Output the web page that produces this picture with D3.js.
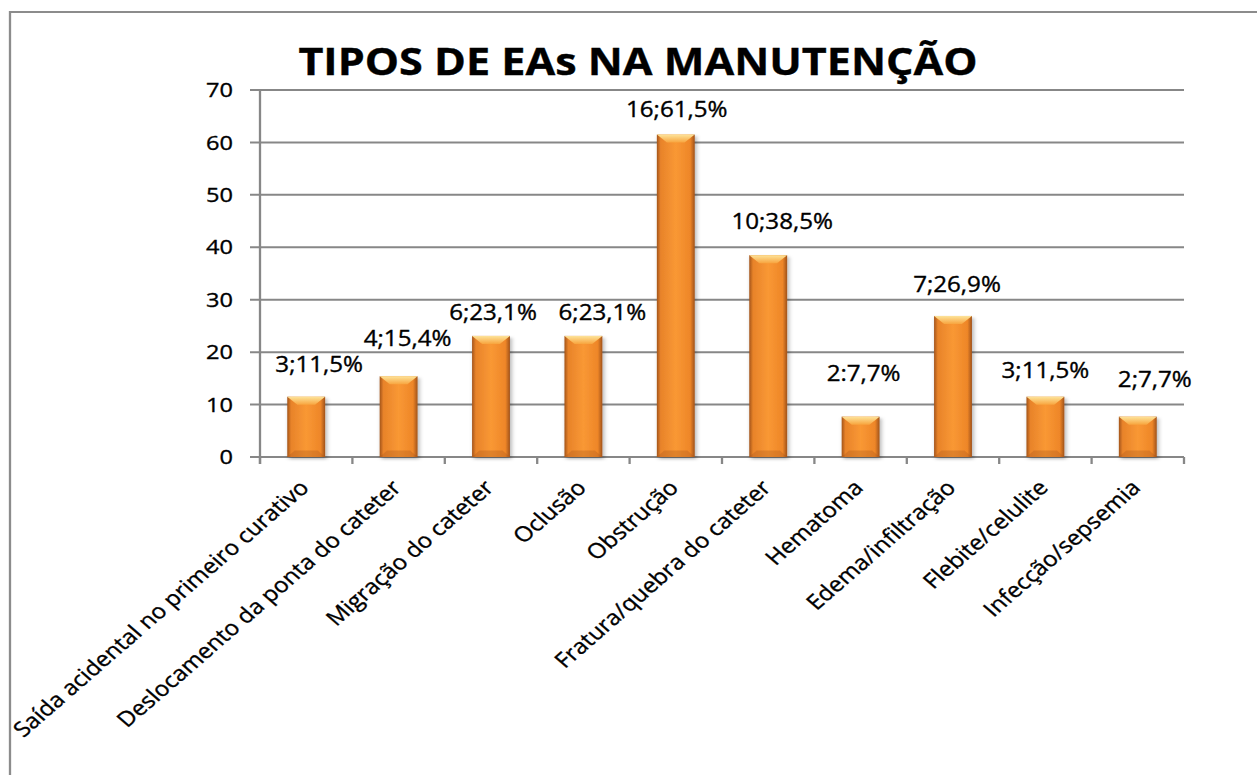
<!DOCTYPE html>
<html>
<head>
<meta charset="utf-8">
<script src="https://cdn.jsdelivr.net/npm/d3@7"></script>
<style>
  html, body { margin: 0; padding: 0; background: #fff; }
  svg { display: block; }
  text { font-family: "Open Sans", "Noto Sans", sans-serif; fill: #000; stroke: #000; stroke-width: 0.35px; }
</style>
</head>
<body>
<div id="chart"></div>
<script>
// chart values
const categories = [
    "Saída acidental no primeiro curativo",
    "Deslocamento da ponta do cateter",
    "Migração do cateter",
    "Oclusão",
    "Obstrução",
    "Fratura/quebra do cateter",
    "Hematoma",
    "Edema/infiltração",
    "Flebite/celulite",
    "Infecção/sepsemia"
];
const percents = [11.5, 15.4, 23.1, 23.1, 61.5, 38.5, 7.7, 26.9, 11.5, 7.7];
const dataLabels = ["3;11,5%", "4;15,4%", "6;23,1%", "6;23,1%", "16;61,5%",
                    "10;38,5%", "2:7,7%", "7;26,9%", "3;11,5%", "2;7,7%"];
const yTicks = [0, 10, 20, 30, 40, 50, 60, 70];

// hand-placed label offsets (px, like in the original sheet)
const labelNudge = [[13, -32], [9, -38], [2, -23], [19, -23], [1, -25],
                    [14, -33], [3, -43], [4, -31], [0, -26], [17, -37]];

const W = 1257, H = 775;
const k = 1.15; // the picture is stretched horizontally
const innerW = W / k;

const svg = d3.select("#chart").append("svg")
    .attr("width", W)
    .attr("height", H)
    .attr("viewBox", `0 0 ${innerW} ${H}`)
    .attr("preserveAspectRatio", "none");

const defs = svg.append("defs");

const bodyGrad = defs.append("linearGradient").attr("id", "barBody")
    .attr("x1", "0").attr("x2", "1").attr("y1", "0").attr("y2", "0");
[[0, "#a3541a"], [0.1, "#e8832a"], [0.5, "#f99834"], [0.88, "#ee8628"], [1, "#a0521a"]]
    .forEach(([o, c]) => bodyGrad.append("stop").attr("offset", o).attr("stop-color", c));

const topGrad = defs.append("linearGradient").attr("id", "barTop")
    .attr("x1", "0").attr("x2", "0").attr("y1", "0").attr("y2", "1");
[[0, "#fde49a"], [1, "#f8a53f"]]
    .forEach(([o, c]) => topGrad.append("stop").attr("offset", o).attr("stop-color", c));

const shadow = defs.append("filter").attr("id", "shadow")
    .attr("x", "-20%").attr("y", "-5%").attr("width", "150%").attr("height", "115%");
shadow.append("feDropShadow").attr("dx", 1.5).attr("dy", 2).attr("stdDeviation", 1.8)
    .attr("flood-color", "#000").attr("flood-opacity", 0.3);

// outer frame
svg.append("path")
    .attr("d", `M${10 / k},${H + 5} V12 H${innerW + 5}`)
    .attr("fill", "none")
    .attr("stroke", "#8c8c8c")
    .attr("stroke-width", 2);

// title
svg.append("text")
    .attr("x", 638 / k)
    .attr("y", 75)
    .attr("text-anchor", "middle")
    .attr("font-size", "37.5px")
    .attr("font-weight", "bold")
    .text("TIPOS DE EAs NA MANUTENÇÃO");

const left = 260 / k, right = 1184 / k;
const x = d3.scaleBand()
    .domain(categories)
    .range([left, right])
    .paddingInner(0.59)
    .paddingOuter(0.295);

const y = d3.scaleLinear().domain([0, 70]).range([457, 90]);

// gridlines + y ticks
const grid = svg.append("g");
grid.selectAll("line")
    .data(yTicks)
    .enter().append("line")
    .attr("x1", left - 10 / k)
    .attr("x2", right)
    .attr("y1", d => y(d))
    .attr("y2", d => y(d))
    .attr("stroke", "#878787")
    .attr("stroke-width", 2);

grid.selectAll("text")
    .data(yTicks)
    .enter().append("text")
    .attr("x", 233 / k)
    .attr("y", d => y(d))
    .attr("dy", "0.35em")
    .attr("text-anchor", "end")
    .attr("font-size", "20.5px")
    .text(d => d);

// y axis line
svg.append("line")
    .attr("x1", left).attr("x2", left)
    .attr("y1", y(70)).attr("y2", y(0) + 7)
    .attr("stroke", "#878787").attr("stroke-width", 2);

// category tick marks
const step = x.step();
svg.append("g").selectAll("line")
    .data(d3.range(categories.length + 1))
    .enter().append("line")
    .attr("x1", i => left + i * step)
    .attr("x2", i => left + i * step)
    .attr("y1", y(0))
    .attr("y2", y(0) + 7)
    .attr("stroke", "#878787")
    .attr("stroke-width", 2);

// bars
const bw = x.bandwidth();
const bars = svg.append("g").selectAll("g")
    .data(categories)
    .enter().append("g")
    .attr("filter", "url(#shadow)");

bars.each(function (c, i) {
    const g = d3.select(this);
    const x0 = x(c), y0 = y(percents[i]), h = y(0) - y0;
    const b = Math.min(8, h / 3);
    g.append("rect")
        .attr("x", x0).attr("y", y0)
        .attr("width", bw).attr("height", h)
        .attr("fill", "url(#barBody)");
    // top bevel
    g.append("path")
        .attr("d", `M${x0},${y0} H${x0 + bw} L${x0 + bw - b * 1.1},${y0 + b} H${x0 + b * 1.1} Z`)
        .attr("fill", "url(#barTop)");
    // bottom bevel
    g.append("path")
        .attr("d", `M${x0},${y0 + h} H${x0 + bw} L${x0 + bw - b * 0.8},${y0 + h - b * 0.8} H${x0 + b * 0.8} Z`)
        .attr("fill", "#a5541a")
        .attr("opacity", 0.3);
});

// data labels
svg.append("g").selectAll("text")
    .data(categories)
    .enter().append("text")
    .attr("x", (c, i) => x(c) + bw / 2 + labelNudge[i][0] / k)
    .attr("y", (c, i) => y(percents[i]) + labelNudge[i][1])
    .attr("dy", "0.35em")
    .attr("text-anchor", "middle")
    .attr("font-size", "21px")
    .text((c, i) => dataLabels[i]);

// category labels
svg.append("g").selectAll("text")
    .data(categories)
    .enter().append("text")
    .attr("transform", c => `translate(${x(c) + bw / 2 + 4 / k},${489}) rotate(-45)`)
    .attr("text-anchor", "end")
    .attr("font-size", "21px")
    .text(c => c);
</script>
</body>
</html>
